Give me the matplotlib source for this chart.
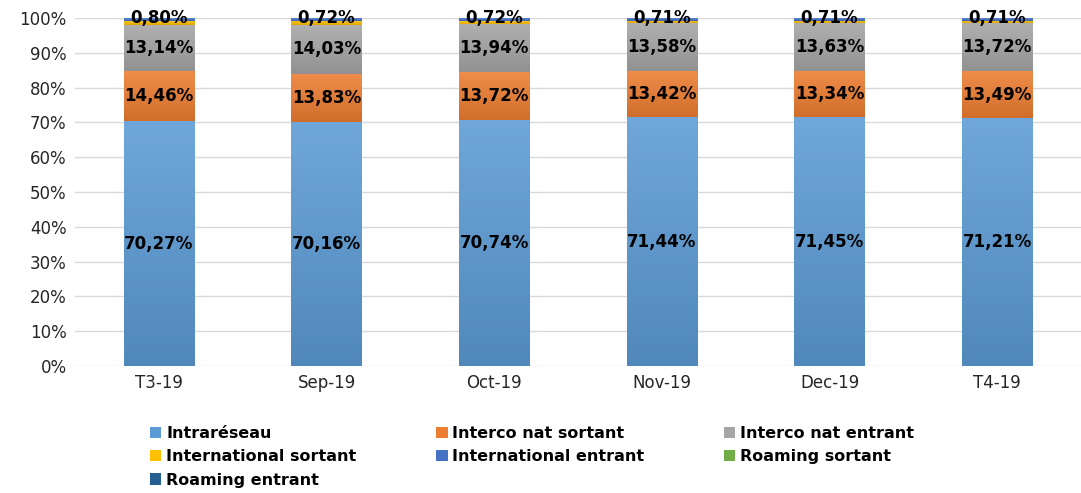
import matplotlib
matplotlib.use("Agg")
import matplotlib.pyplot as plt
import numpy as np
from matplotlib.colors import LinearSegmentedColormap, to_rgb
from matplotlib.patches import Patch

# data (% of traffic)
periods = ["T3-19", "Sep-19", "Oct-19", "Nov-19", "Dec-19", "T4-19"]
intrareseau = [70.27, 70.16, 70.74, 71.44, 71.45, 71.21]
interco_sortant = [14.46, 13.83, 13.72, 13.42, 13.34, 13.49]
interco_entrant = [13.14, 14.03, 13.94, 13.58, 13.63, 13.72]
intl_sortant = [1.25, 1.18, 0.80, 0.77, 0.79, 0.79]
intl_entrant = [0.80, 0.72, 0.72, 0.71, 0.71, 0.71]
roaming_sortant = [0.03, 0.03, 0.03, 0.03, 0.03, 0.03]
roaming_entrant = [0.05, 0.05, 0.05, 0.05, 0.05, 0.05]

series = [
    ("Intraréseau", intrareseau, "#5b9bd5"),
    ("Interco nat sortant", interco_sortant, "#ed7d31"),
    ("Interco nat entrant", interco_entrant, "#a5a5a5"),
    ("International sortant", intl_sortant, "#ffc000"),
    ("International entrant", intl_entrant, "#4472c4"),
    ("Roaming sortant", roaming_sortant, "#70ad47"),
    ("Roaming entrant", roaming_entrant, "#255e91"),
]


def shade(c, f):
    r = np.array(to_rgb(c))
    if f > 0:
        return tuple(r + (1 - r) * f)
    return tuple(r * (1 + f))


fig = plt.figure(figsize=(10.81, 4.93), dpi=100)
ax = fig.add_axes([0.0694, 0.2576, 0.9306, 0.7059])

x = np.arange(len(periods))
width = 0.42
bottom = np.zeros(len(periods))
handles = []
for name, vals, col in series:
    bars = ax.bar(x, vals, width, bottom=bottom, color=col, zorder=2)
    cmap = LinearSegmentedColormap.from_list(name, [shade(col, -0.12), shade(col, 0.12)])
    for b in bars:
        x0, y0 = b.get_x(), b.get_y()
        grad = np.linspace(0, 1, 100).reshape(-1, 1)
        ax.imshow(grad, extent=[x0, x0 + b.get_width(), y0, y0 + b.get_height()],
                  origin="lower", aspect="auto", cmap=cmap, zorder=2.5)
    bottom += np.array(vals)
    handles.append(Patch(facecolor=col, label=name))

# value labels
cum = np.zeros(len(periods))
for name, vals, col in series[:3]:
    for i, v in enumerate(vals):
        ax.text(x[i], cum[i] + v / 2, f"{v:.2f}%".replace(".", ","),
                ha="center", va="center", fontsize=12, fontweight="bold", zorder=4)
    cum += np.array(vals)
for i, v in enumerate(intl_entrant):
    ax.text(x[i], 100, f"{v:.2f}%".replace(".", ","),
            ha="center", va="center", fontsize=12, fontweight="bold", zorder=4)

ax.set_xlim(-0.5, len(periods) - 0.5)
ax.set_ylim(0, 100)
ax.set_yticks(np.arange(0, 101, 10))
ax.set_yticklabels([f"{t}%" for t in range(0, 101, 10)])
ax.set_xticks(x)
ax.set_xticklabels(periods)
ax.tick_params(axis="both", length=0, labelsize=12, colors="#262626")
ax.tick_params(axis="x", pad=6)
ax.tick_params(axis="y", pad=6)
ax.grid(axis="y", color="#d9d9d9", linewidth=1, zorder=0)
for s in ax.spines.values():
    s.set_visible(False)

# legend, column-major order
order = [0, 3, 6, 1, 4, 2, 5]
leg = fig.legend([handles[k] for k in order], [handles[k].get_label() for k in order],
                 ncol=3, loc="upper left", bbox_to_anchor=(0.139, 0.136),
                 frameon=False, handlelength=0.7, handleheight=0.7, handletextpad=0.3,
                 columnspacing=5.0, labelspacing=0.52,
                 prop={"size": 11.5, "weight": "bold"}, borderaxespad=0, borderpad=0)

fig.savefig("out.png", dpi=100, facecolor="white")
